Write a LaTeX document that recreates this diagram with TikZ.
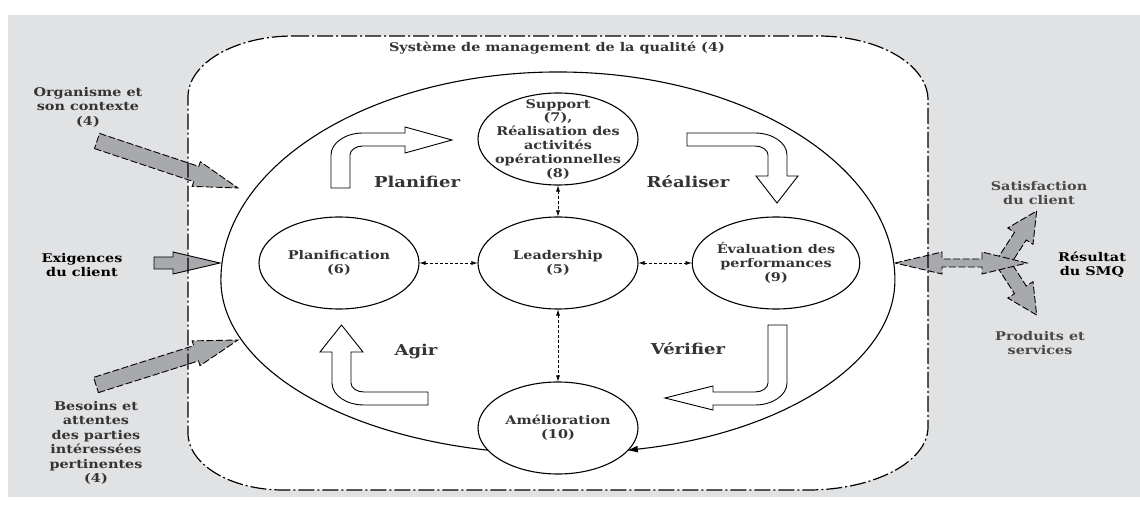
\documentclass[tikz,border=0pt]{standalone}
\usepackage{fontspec}
\setmainfont{DejaVu Serif}[FakeStretch=1.2]
\usetikzlibrary{shapes.geometric,arrows.meta}

\definecolor{bggray}{RGB}{225,226,228}
\definecolor{arrowgray}{RGB}{168,169,172}
\definecolor{txtgray}{RGB}{52,52,52}
\definecolor{lightgray}{RGB}{72,72,72}

\tikzset{
  phase/.style={ellipse, draw, line width=1.1pt, fill=white, minimum width=160pt, minimum height=92pt, inner sep=0pt},
  phasetext/.style={font=\fontsize{12}{13.8}\selectfont\bfseries, text=txtgray, align=center},
  pdca/.style={font=\fontsize{15}{18}\selectfont\bfseries, text=txtgray},
  outlabel/.style={font=\fontsize{12}{14.5}\selectfont\bfseries, text=txtgray, align=center},
  linkarrow/.style={{Latex[length=6pt,width=4pt]}-{Latex[length=6pt,width=4pt]}, dash pattern=on 3pt off 2pt, line width=0.6pt},
  hollowarrow/.style={draw, fill=white, line width=0.9pt},
  grayarrow/.style={draw, fill=arrowgray, line width=0.9pt},
  smqborder/.style={line width=1.2pt, dash pattern=on 16pt off 3pt on 2pt off 3pt}
}

\begin{document}
\begin{tikzpicture}[x=1pt,y=1pt]
    \useasboundingbox (0,0) rectangle (1140,509);
    \fill[white] (0,0) rectangle (1140,509);
    \fill[bggray] (8,12) rectangle (1140,494);

    % frame of the system
    \fill[white, save path=\smqpath] (293,473) -- (818,473) arc[start angle=90,end angle=0,x radius=110,y radius=64]
        -- (928,82) arc[start angle=0,end angle=-90,x radius=120,y radius=63]
        -- (283,19) arc[start angle=270,end angle=180,x radius=95,y radius=57]
        -- (188,412) arc[start angle=180,end angle=90,x radius=105,y radius=61] -- cycle;

    % inputs
    \draw[grayarrow, dash pattern=on 7pt off 2.5pt, shift={(97,368)}, rotate=-18.43]
        (0,-8) -- (104.6,-8) -- (104.6,-13) -- (148.6,0) -- (104.6,13) -- (104.6,8) -- (0,8) -- cycle;
    \draw[grayarrow] (154,240) -- (173,240) -- (173,235) -- (220,246) -- (173,257) -- (173,252) -- (154,252) -- cycle;
    \draw[grayarrow, dash pattern=on 7pt off 2.5pt, shift={(96,124)}, rotate=17.58]
        (0,-8) -- (105,-8) -- (105,-13) -- (149,0) -- (105,13) -- (105,8) -- (0,8) -- cycle;

    % outputs
    \draw[grayarrow, dash pattern=on 7pt off 2.5pt, shift={(1003,246)}, rotate=57.1]
        (0,-7) -- (32,-7) -- (32,-15) -- (62,0) -- (32,15) -- (32,7) -- (0,7) -- cycle;
    \draw[grayarrow, dash pattern=on 7pt off 2.5pt, shift={(1003,246)}, rotate=-57.1]
        (0,-7) -- (32,-7) -- (32,-15) -- (62,0) -- (32,15) -- (32,7) -- (0,7) -- cycle;
    \draw[grayarrow, dash pattern=on 7pt off 2.5pt] (895,246) -- (942,257) -- (942,250) -- (982,250) -- (982,257)
        -- (1027,246) -- (982,235) -- (982,242) -- (942,242) -- (942,235) -- cycle;

    \draw[smqborder, use path=\smqpath];

    % cycle
    \draw[line width=1.1pt, -{Latex[length=11pt,width=7pt]}] (489,58.7)
        arc[start angle=258.2,end angle=180,x radius=337,y radius=174]
        arc[start angle=180,end angle=0,x radius=337,y radius=208]
        arc[start angle=0,end angle=-78.2,x radius=337,y radius=174];

    \draw[hollowarrow] (331,321) -- (331,354) arc[start angle=180,end angle=90,x radius=32,y radius=22]
        -- (405,376) -- (405,382) -- (452,369) -- (405,356) -- (405,363) -- (363,363)
        arc[start angle=90,end angle=180,x radius=13,y radius=9] -- (350,321) -- cycle;
    \draw[hollowarrow] (687,376) -- (755,376) arc[start angle=90,end angle=0,x radius=32,y radius=22]
        -- (787,333) -- (798,333) -- (777,306) -- (756,333) -- (768,333) -- (768,354)
        arc[start angle=0,end angle=90,x radius=13,y radius=9] -- (687,363) -- cycle;
    \draw[hollowarrow] (768,184) -- (787,184) -- (787,126) arc[start angle=0,end angle=-90,x radius=32,y radius=22]
        -- (713,104) -- (713,99) -- (665,111) -- (713,123) -- (713,117) -- (755,117)
        arc[start angle=-90,end angle=0,x radius=13,y radius=9] -- cycle;
    \draw[hollowarrow] (428,104) -- (364,104) arc[start angle=-90,end angle=-180,x radius=32,y radius=22]
        -- (332,157) -- (320,157) -- (341.5,184) -- (363,157) -- (351,157) -- (351,126)
        arc[start angle=180,end angle=270,x radius=13,y radius=9] -- (428,117) -- cycle;

    \node[phase] (support) at (558,370) {};
    \node[phasetext] (supporttext) at (support.center) {Support\\(7),\\Réalisation des\\activités\\opérationnelles\\(8)};
    \node[phase, phasetext] (leader) at (558,246) {Leadership\\(5)};
    \node[phase, phasetext] (planif) at (339,246) {Planification\\(6)};
    \node[phase, phasetext] (eval) at (776,246) {Évaluation des\\performances\\(9)};
    \node[phase, phasetext] (amelio) at (558,81) {Amélioration\\(10)};

    \draw[linkarrow] (planif) -- (leader);
    \draw[linkarrow] (leader) -- (eval);
    \draw[linkarrow] (support) -- (leader);
    \draw[linkarrow] (leader) -- (amelio);

    \node[pdca] (planifier) at (417,327) {Planifier};
    \node[pdca] (realiser) at (688,327) {Réaliser};
    \node[pdca] (agir) at (416,158) {Agir};
    \node[pdca] (verifier) at (688,160) {Vérifier};

    \node[outlabel] (title) at (557,461) {Système de management de la qualité (4)};
    \node[outlabel] (organisme) at (88,402) {Organisme et\\son contexte\\(4)};
    \node[outlabel, text=black] (exigences) at (82,244) {Exigences\\du client};
    \node[outlabel] (besoins) at (96,66) {Besoins et\\attentes\\des parties\\intéressées\\pertinentes\\(4)};
    \node[outlabel, text=lightgray] (satisfaction) at (1039,316) {Satisfaction\\du client};
    \node[outlabel, text=black] (resultat) at (1092,244) {Résultat\\du SMQ};
    \node[outlabel, text=lightgray] (produits) at (1040,166) {Produits et\\services};
\end{tikzpicture}
\end{document}
